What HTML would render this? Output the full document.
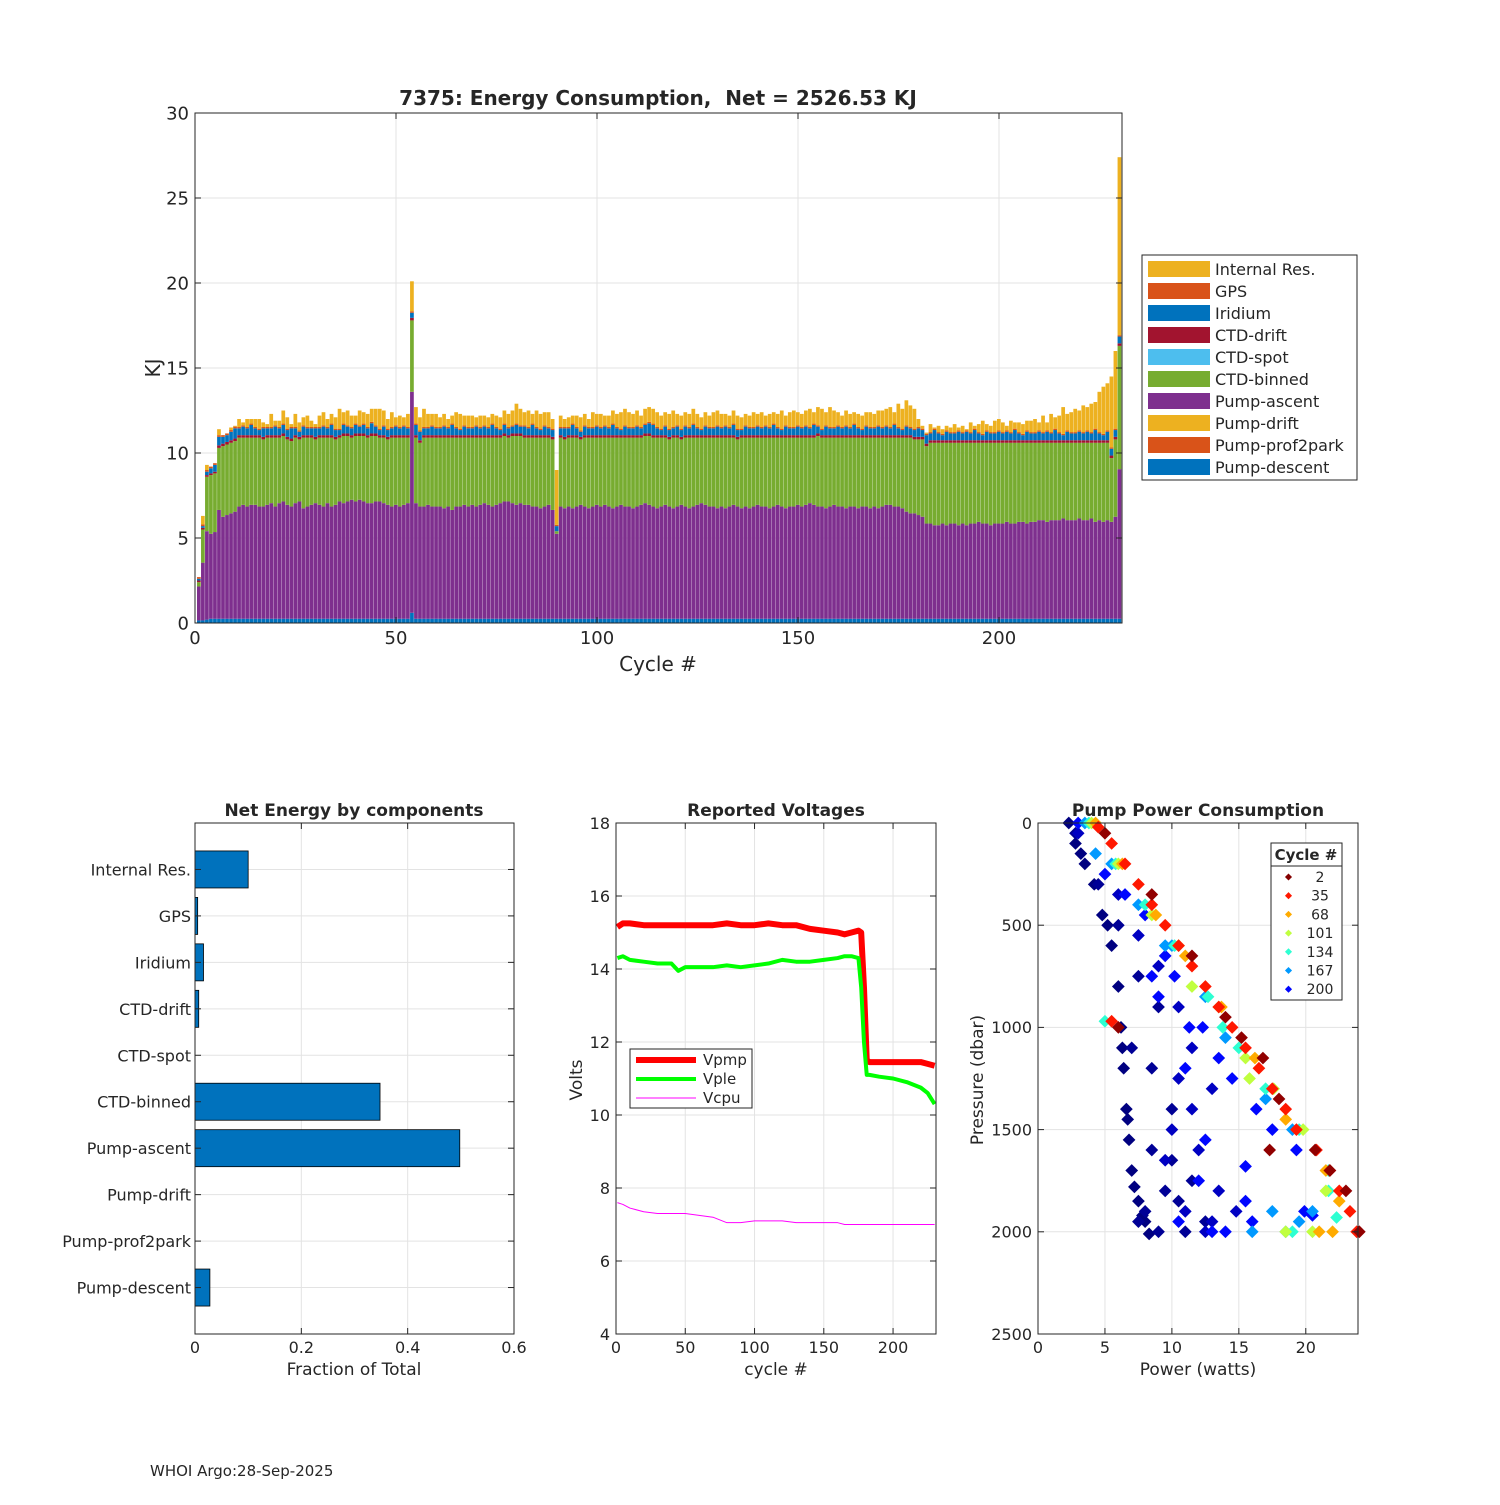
<!DOCTYPE html>
<html><head><meta charset="utf-8"><style>
html,body{margin:0;padding:0;background:#fff;}
svg text{font-family:"DejaVu Sans","Liberation Sans",sans-serif;fill:#262626;white-space:pre;}
</style></head><body>
<svg id="fig" width="1500" height="1500" viewBox="0 0 1500 1500" xmlns="http://www.w3.org/2000/svg"></svg>
<script>
// ===== Top chart data (cycles 1..230) =====
const cycles=[];for(let i=1;i<=230;i++)cycles.push(i);
const total=[2.6,6.3,9.3,9.0,9.1,11.4,11.0,11.1,11.5,11.6,
12.0,11.8,12.0,12.0,12.0,12.0,11.8,11.7,12.3,11.9,
11.9,12.5,12.1,11.7,12.3,11.8,12.1,12.2,11.9,11.7,
12.2,12.4,12.0,12.3,12.1,12.6,12.4,12.5,12.2,12.2,
12.5,12.4,12.3,12.6,12.6,12.6,12.5,12.0,12.4,12.1,
12.2,12.1,12.3,20.1,12.7,12.1,12.6,12.3,12.3,12.3,
12.1,12.3,12.0,12.2,12.4,12.3,12.2,12.2,12.2,12.1,
12.2,12.2,12.1,12.3,12.2,12.1,12.5,12.3,12.5,12.9,
12.6,12.4,12.5,12.3,12.5,12.3,12.4,12.4,12.0,9.0,
12.2,12.0,12.1,12.2,12.2,12.1,12.3,12.0,12.4,12.3,
12.3,12.2,12.2,12.5,12.3,12.4,12.6,12.4,12.3,12.5,
12.2,12.6,12.7,12.6,12.4,12.2,12.4,12.3,12.5,12.3,
12.2,12.4,12.3,12.6,12.3,12.1,12.4,12.2,12.4,12.5,
12.3,12.3,12.2,12.5,12.2,12.1,12.3,12.2,12.4,12.3,
12.4,12.2,12.3,12.4,12.3,12.5,12.2,12.4,12.5,12.4,
12.3,12.5,12.6,12.4,12.7,12.6,12.4,12.7,12.5,12.4,
12.2,12.5,12.3,12.4,12.3,12.2,12.4,12.4,12.3,12.5,
12.5,12.6,12.7,12.4,12.9,12.6,13.1,12.8,12.6,12.0,
11.6,11.2,11.7,11.5,11.6,11.4,11.6,11.5,11.7,11.5,
11.6,11.4,11.8,11.6,11.7,11.9,11.7,11.6,11.9,12.0,
11.8,11.6,11.9,11.8,11.8,11.7,11.9,11.9,12.0,11.8,
12.2,11.8,12.3,12.1,12.2,12.7,12.3,12.4,12.6,12.5,
12.8,12.7,12.9,13.0,13.6,13.9,14.1,14.5,16.0,27.4];
const descent=[0.15,0.15,0.2,0.25,0.25,0.25,0.25,0.25,0.25,0.25,
0.25,0.25,0.25,0.25,0.25,0.25,0.25,0.25,0.25,0.25,0.25,0.25,0.25,0.25,0.25,0.25,0.25,0.25,0.25,0.25,
0.25,0.25,0.25,0.25,0.25,0.25,0.25,0.25,0.25,0.25,0.25,0.25,0.25,0.25,0.25,0.25,0.25,0.25,0.25,0.25,
0.25,0.25,0.25,0.6,0.25,0.25,0.25,0.25,0.25,0.25,0.25,0.25,0.25,0.25,0.25,0.25,0.25,0.25,0.25,0.25,
0.25,0.25,0.25,0.25,0.25,0.25,0.25,0.25,0.25,0.25,0.25,0.25,0.25,0.25,0.25,0.25,0.25,0.25,0.25,0.25,
0.25,0.25,0.25,0.25,0.25,0.25,0.25,0.25,0.25,0.25,0.25,0.25,0.25,0.25,0.25,0.25,0.25,0.25,0.25,0.25,
0.25,0.25,0.25,0.25,0.25,0.25,0.25,0.25,0.25,0.25,0.25,0.25,0.25,0.25,0.25,0.25,0.25,0.25,0.25,0.25,
0.25,0.25,0.25,0.25,0.25,0.25,0.25,0.25,0.25,0.25,0.25,0.25,0.25,0.25,0.25,0.25,0.25,0.25,0.25,0.25,
0.25,0.25,0.25,0.25,0.25,0.25,0.25,0.25,0.25,0.25,0.25,0.25,0.25,0.25,0.25,0.25,0.25,0.25,0.25,0.25,
0.25,0.25,0.25,0.25,0.25,0.25,0.25,0.25,0.25,0.25,0.25,0.25,0.25,0.25,0.25,0.25,0.25,0.25,0.25,0.25,
0.25,0.25,0.25,0.25,0.25,0.25,0.25,0.25,0.25,0.25,0.25,0.25,0.25,0.25,0.25,0.25,0.25,0.25,0.25,0.25,
0.25,0.25,0.25,0.25,0.25,0.25,0.25,0.25,0.25,0.25,0.25,0.25,0.25,0.25,0.25,0.25,0.25,0.25,0.25,0.25];
const ascent=[2.0,3.4,5.2,5.0,5.1,6.4,6.0,6.1,6.2,6.3,
6.6,6.7,6.6,6.7,6.7,6.6,6.6,6.7,6.8,6.6,
6.8,6.9,6.7,6.6,6.8,6.9,6.5,6.6,6.7,6.8,
6.7,6.6,6.8,6.6,6.7,6.9,6.8,6.9,7.0,6.9,
7.0,6.9,6.8,6.8,6.9,6.9,6.8,6.7,6.6,6.7,
6.6,6.7,6.8,13.0,6.8,6.6,6.6,6.7,6.6,6.6,
6.6,6.5,6.6,6.4,6.6,6.6,6.7,6.6,6.7,6.6,
6.7,6.8,6.7,6.6,6.7,6.8,6.9,6.9,6.8,6.7,
6.8,6.7,6.7,6.6,6.6,6.5,6.6,6.7,6.4,5.0,
6.6,6.5,6.6,6.5,6.6,6.7,6.6,6.5,6.6,6.7,
6.6,6.7,6.6,6.5,6.6,6.7,6.6,6.6,6.5,6.6,
6.7,6.8,6.7,6.6,6.5,6.6,6.7,6.6,6.5,6.6,
6.7,6.6,6.5,6.6,6.7,6.8,6.7,6.6,6.6,6.5,
6.6,6.5,6.6,6.7,6.6,6.5,6.6,6.5,6.6,6.7,
6.6,6.6,6.5,6.6,6.7,6.6,6.5,6.6,6.6,6.7,
6.6,6.7,6.8,6.7,6.6,6.6,6.5,6.6,6.7,6.6,
6.6,6.5,6.6,6.6,6.5,6.6,6.6,6.5,6.6,6.5,
6.6,6.7,6.7,6.6,6.6,6.5,6.3,6.2,6.2,6.1,
6.0,5.6,5.6,5.5,5.5,5.6,5.5,5.6,5.6,5.5,
5.6,5.5,5.6,5.6,5.7,5.6,5.6,5.5,5.6,5.6,
5.6,5.7,5.6,5.6,5.7,5.7,5.6,5.7,5.7,5.8,
5.8,5.7,5.8,5.8,5.8,5.9,5.8,5.8,5.8,5.9,
5.8,5.8,5.9,5.7,5.8,5.7,5.8,5.7,6.0,8.8];
const greenTop=[2.4,5.5,8.6,8.7,8.8,10.3,10.4,10.5,10.6,10.7,
10.9,10.9,10.9,10.9,10.9,10.9,10.8,10.9,10.9,10.9,
10.9,11.0,10.8,10.7,10.9,10.8,10.9,10.9,10.9,10.8,
10.9,10.9,10.9,10.9,10.8,10.9,11.0,11.0,10.9,11.0,
11.0,11.0,10.9,11.0,11.0,10.9,10.9,10.8,10.9,10.9,
10.9,10.9,10.9,17.8,10.9,10.6,10.9,10.9,10.9,10.9,
10.9,10.9,10.9,10.9,10.9,10.9,10.9,10.9,10.9,10.9,
10.9,10.9,10.9,10.9,10.9,10.9,11.0,10.9,11.0,11.0,
11.0,10.9,10.9,10.9,10.9,10.9,10.9,10.9,10.8,5.4,
10.9,10.8,10.9,10.9,10.9,10.8,10.9,10.9,10.9,10.9,
10.9,10.9,10.9,10.9,10.9,10.9,10.9,10.9,10.9,10.9,
10.9,11.0,11.0,10.9,10.9,10.9,10.9,10.8,10.9,10.9,
10.8,10.9,10.9,10.9,10.9,10.9,10.9,10.9,10.9,10.9,
10.9,10.9,10.9,10.9,10.8,10.9,10.9,10.9,10.9,10.9,
10.9,10.9,10.9,10.9,10.9,10.9,10.9,10.9,10.9,10.9,
10.9,10.9,10.9,10.9,11.0,10.9,10.9,10.9,10.9,10.9,
10.9,10.9,10.9,10.9,10.9,10.9,10.9,10.9,10.9,10.9,
10.9,10.9,10.9,10.9,10.9,10.9,10.9,10.9,10.8,10.8,
10.8,10.4,10.6,10.6,10.6,10.6,10.6,10.6,10.6,10.6,
10.6,10.6,10.6,10.6,10.6,10.6,10.6,10.6,10.6,10.6,
10.6,10.6,10.6,10.6,10.6,10.6,10.6,10.6,10.6,10.6,
10.6,10.6,10.6,10.6,10.6,10.6,10.6,10.6,10.6,10.6,
10.6,10.6,10.6,10.6,10.6,10.6,10.6,9.7,10.8,16.3];
const ctdDrift=[0.1,0.1,0.1,0.1,0.1,0.15,0.15,0.15,0.15,0.15,
0.15,0.15,0.15,0.15,0.15,0.15,0.15,0.15,0.15,0.15,0.15,0.15,0.15,0.15,0.15,0.15,0.15,0.15,0.15,0.15,
0.15,0.15,0.15,0.15,0.15,0.15,0.15,0.15,0.15,0.15,0.15,0.15,0.15,0.15,0.15,0.15,0.15,0.15,0.15,0.15,
0.15,0.15,0.15,0.15,0.15,0.15,0.15,0.15,0.15,0.15,0.15,0.15,0.15,0.15,0.15,0.15,0.15,0.15,0.15,0.15,
0.15,0.15,0.15,0.15,0.15,0.15,0.15,0.15,0.15,0.15,0.15,0.15,0.15,0.15,0.15,0.15,0.15,0.15,0.15,0.0,
0.15,0.15,0.15,0.15,0.15,0.15,0.15,0.15,0.15,0.15,0.15,0.15,0.15,0.15,0.15,0.15,0.15,0.15,0.15,0.15,
0.15,0.15,0.15,0.15,0.15,0.15,0.15,0.15,0.15,0.15,0.15,0.15,0.15,0.15,0.15,0.15,0.15,0.15,0.15,0.15,
0.15,0.15,0.15,0.15,0.15,0.15,0.15,0.15,0.15,0.15,0.15,0.15,0.15,0.15,0.15,0.15,0.15,0.15,0.15,0.15,
0.15,0.15,0.15,0.15,0.15,0.15,0.15,0.15,0.15,0.15,0.15,0.15,0.15,0.15,0.15,0.15,0.15,0.15,0.15,0.15,
0.15,0.15,0.15,0.15,0.15,0.15,0.15,0.15,0.15,0.15,0.15,0.15,0.15,0.15,0.15,0.15,0.15,0.15,0.15,0.15,
0.15,0.15,0.15,0.15,0.15,0.15,0.15,0.15,0.15,0.15,0.15,0.15,0.15,0.15,0.15,0.15,0.15,0.15,0.15,0.15,
0.15,0.15,0.15,0.15,0.15,0.15,0.15,0.15,0.15,0.15,0.15,0.15,0.15,0.15,0.15,0.15,0.15,0.15,0.15,0.15];
const iridium=[0.1,0.1,0.2,0.3,0.4,0.5,0.4,0.4,0.5,0.6,
0.4,0.5,0.4,0.6,0.4,0.3,0.5,0.4,0.4,0.5,0.4,0.5,0.4,0.6,0.4,0.3,0.5,0.4,0.4,0.5,
0.4,0.5,0.4,0.6,0.4,0.3,0.5,0.4,0.4,0.5,0.4,0.5,0.4,0.6,0.4,0.3,0.5,0.4,0.4,0.5,
0.4,0.5,0.4,0.3,0.6,0.5,0.4,0.4,0.5,0.4,0.4,0.5,0.4,0.6,0.4,0.3,0.5,0.4,0.4,0.5,
0.4,0.5,0.4,0.6,0.4,0.3,0.5,0.4,0.4,0.5,0.4,0.5,0.4,0.6,0.4,0.3,0.5,0.4,0.4,0.3,
0.4,0.5,0.4,0.6,0.4,0.3,0.5,0.4,0.4,0.5,0.4,0.5,0.4,0.6,0.4,0.3,0.5,0.4,0.4,0.5,
0.4,0.5,0.6,0.6,0.4,0.3,0.5,0.4,0.4,0.5,0.4,0.5,0.4,0.6,0.4,0.3,0.5,0.4,0.4,0.5,
0.4,0.5,0.4,0.6,0.4,0.3,0.5,0.4,0.4,0.5,0.4,0.5,0.4,0.6,0.4,0.3,0.5,0.4,0.4,0.5,
0.4,0.5,0.4,0.6,0.4,0.3,0.5,0.4,0.4,0.5,0.4,0.5,0.4,0.6,0.4,0.3,0.5,0.4,0.4,0.5,
0.4,0.5,0.4,0.6,0.4,0.3,0.5,0.4,0.4,0.5,0.4,0.5,0.4,0.6,0.4,0.3,0.5,0.4,0.4,0.5,
0.4,0.5,0.4,0.6,0.4,0.3,0.5,0.4,0.4,0.5,0.4,0.5,0.4,0.6,0.4,0.3,0.5,0.4,0.4,0.5,
0.4,0.5,0.4,0.6,0.4,0.3,0.5,0.4,0.4,0.5,0.4,0.5,0.4,0.6,0.4,0.3,0.5,0.4,0.4,0.4];
const gps=[0.1,0.1,0.1,0.1,0.1,0.1,0.1,0.1,0.1,0.1,
0.08,0.08,0.08,0.08,0.08,0.08,0.08,0.08,0.08,0.08,0.08,0.08,0.08,0.08,0.08,0.08,0.08,0.08,0.08,0.08,
0.08,0.08,0.08,0.08,0.08,0.08,0.08,0.08,0.08,0.08,0.08,0.08,0.08,0.08,0.08,0.08,0.08,0.08,0.08,0.08,
0.08,0.08,0.08,0.08,0.08,0.08,0.08,0.08,0.08,0.08,0.08,0.08,0.08,0.08,0.08,0.08,0.08,0.08,0.08,0.08,
0.08,0.08,0.08,0.08,0.08,0.08,0.08,0.08,0.08,0.08,0.08,0.08,0.08,0.08,0.08,0.08,0.08,0.08,0.08,0.08,
0.08,0.08,0.08,0.08,0.08,0.08,0.08,0.08,0.08,0.08,0.08,0.08,0.08,0.08,0.08,0.08,0.08,0.08,0.08,0.08,
0.08,0.08,0.08,0.08,0.08,0.08,0.08,0.08,0.08,0.08,0.08,0.08,0.08,0.08,0.08,0.08,0.08,0.08,0.08,0.08,
0.08,0.08,0.08,0.08,0.08,0.08,0.08,0.08,0.08,0.08,0.08,0.08,0.08,0.08,0.08,0.08,0.08,0.08,0.08,0.08,
0.08,0.08,0.08,0.08,0.08,0.08,0.08,0.08,0.08,0.08,0.08,0.08,0.08,0.08,0.08,0.08,0.08,0.08,0.08,0.08,
0.08,0.08,0.08,0.08,0.08,0.08,0.08,0.08,0.08,0.08,0.08,0.08,0.08,0.08,0.08,0.08,0.08,0.08,0.08,0.08,
0.08,0.08,0.08,0.08,0.08,0.08,0.08,0.08,0.08,0.08,0.08,0.08,0.08,0.08,0.08,0.08,0.08,0.08,0.08,0.08,
0.08,0.08,0.08,0.08,0.08,0.08,0.08,0.08,0.08,0.08,0.08,0.08,0.08,0.08,0.08,0.08,0.08,0.08,0.08,0.08];
const yTicksTop=[0,5,10,15,20,25,30];
const xTicksTop=[0,50,100,150,200];
const legendNames=["Internal Res.","GPS","Iridium","CTD-drift","CTD-spot","CTD-binned","Pump-ascent","Pump-drift","Pump-prof2park","Pump-descent"];
const legendColors=["#EDB120","#D95319","#0072BD","#A2142F","#4DBEEE","#77AC30","#7E2F8E","#EDB120","#D95319","#0072BD"];

// ===== Net energy fractions =====
const compNames=["Internal Res.","GPS","Iridium","CTD-drift","CTD-spot","CTD-binned","Pump-ascent","Pump-drift","Pump-prof2park","Pump-descent"];
const compFrac=[0.100,0.005,0.016,0.007,0,0.348,0.498,0,0,0.028];
const fracTicks=[0,0.2,0.4,0.6];

// ===== Voltages =====
const vCycle=[1,5,10,20,30,40,45,50,60,70,80,90,100,110,120,130,140,150,160,165,170,175,177,179,181,183,190,200,210,220,225,230];
const vPmp=[15.15,15.25,15.25,15.2,15.2,15.2,15.2,15.2,15.2,15.2,15.25,15.2,15.2,15.25,15.2,15.2,15.1,15.05,15.0,14.95,15.0,15.05,15.0,13.5,11.5,11.45,11.45,11.45,11.45,11.45,11.4,11.35];
const vPle=[14.3,14.35,14.25,14.2,14.15,14.15,13.95,14.05,14.05,14.05,14.1,14.05,14.1,14.15,14.25,14.2,14.2,14.25,14.3,14.35,14.35,14.3,13.5,12.0,11.1,11.1,11.05,11.0,10.9,10.75,10.6,10.3];
const vCpu=[7.6,7.55,7.45,7.35,7.3,7.3,7.3,7.3,7.25,7.2,7.05,7.05,7.1,7.1,7.1,7.05,7.05,7.05,7.05,7.0,7.0,7.0,7.0,7.0,7.0,7.0,7.0,7.0,7.0,7.0,7.0,7.0];
const voltTicksY=[4,6,8,10,12,14,16,18];
const voltTicksX=[0,50,100,150,200];

// ===== Pump power scatter =====
const pumpCycle=[
5,5,5,5,5,5,5,5,5,5,5,5,5,
35,35,35,35,35,35,35,35,35,35,35,35,35,35,35,35,35,35,35,35,35,35,
68,68,68,68,68,68,68,68,68,68,68,
101,101,101,101,101,101,101,101,101,101,101,101,101,
134,134,134,134,134,134,134,134,134,134,134,134,134,134,
167,167,167,167,167,167,167,167,167,167,167,167,167,167,167,
200,200,200,200,200,200,200,200,200,200,200,200,200,200,200,200,200,200,200,200,200,200,200,200,200,200,
215,215,215,215,215,215,215,215,215,215,215,215,215,215,215,215,215,
225,225,225,225,225,225,225,225,225,225,225,225,225,225,225,225,225,225,
230,230,230,230,230,230,230,230,230,230,230,230,230,230,230,230,230,230,230,230,230];
const pumpPower=[
5.0,8.5,11.5,14.0,15.2,16.8,18.0,20.7,21.8,23.0,24.0,6.0,17.3,
4.5,5.5,6.5,7.5,8.5,9.5,10.5,11.5,12.5,13.5,14.5,15.5,16.5,17.5,18.5,19.3,20.8,21.8,22.5,23.3,23.8,5.5,
4.3,6.3,8.8,11.0,13.7,16.2,18.5,21.5,22.5,22.0,21.0,
4.0,6.0,8.5,10.5,13.5,15.5,17.6,19.8,21.5,20.5,11.5,15.8,18.5,
3.8,5.8,8.0,10.2,12.7,15.0,17.0,19.5,22.3,19.0,13.8,5.0,21.7,21.7,
3.5,5.5,7.5,10.0,12.5,14.0,17.0,19.0,20.5,16.0,18.5,9.5,4.3,19.5,17.5,
3.0,5.0,6.5,8.0,9.5,10.2,11.3,12.3,13.5,14.5,16.3,17.5,19.3,19.9,15.5,14.0,12.0,10.5,16.0,12.5,11.0,8.5,9.0,13.0,15.5,20.5,
3.0,6.0,7.5,9.0,10.5,11.5,13.0,12.0,11.0,13.0,9.5,10.0,12.5,13.5,14.8,11.5,10.5,
2.8,4.5,6.0,7.5,9.0,8.5,10.0,7.0,8.5,9.5,10.5,9.0,11.0,12.5,8.0,7.5,10.0,11.5,
2.3,2.8,3.5,4.2,4.8,5.5,6.0,6.2,6.4,6.6,6.8,7.0,7.5,8.0,8.3,3.2,5.2,6.3,6.7,7.2,7.8];
const pumpPressure=[
50,350,650,950,1050,1150,1350,1600,1700,1800,2000,1000,1600,
20,100,200,300,400,500,600,700,800,900,1000,1100,1200,1300,1400,1500,1600,1700,1800,1900,2000,970,
0,200,450,650,900,1150,1450,1700,1850,2000,2000,
0,200,450,600,900,1150,1300,1500,1800,2000,800,1250,2000,
0,200,400,600,850,1100,1300,1500,1930,2000,1000,970,1700,1800,
0,200,400,600,850,1050,1350,1500,1900,2000,2000,600,150,1950,1900,
0,250,350,450,650,750,1000,1000,1150,1250,1400,1500,1600,1900,1850,2000,1750,1950,1950,1550,1200,750,850,2000,1680,1920,
50,350,550,700,900,1100,1300,1600,1900,1950,1650,1500,2000,1800,1900,1400,1250,
50,300,500,750,900,1200,1400,1100,1600,1800,1850,2000,2000,1950,1900,1950,1650,1750,
0,100,200,300,450,600,800,1000,1200,1400,1550,1700,1850,1950,2010,150,500,1100,1450,1780,1920];
const pumpLegendCycles=[2,35,68,101,134,167,200];
const powerTicks=[0,5,10,15,20];
const pressTicks=[0,500,1000,1500,2000,2500];
</script>
<script>
const NS="http://www.w3.org/2000/svg";
const svg=document.getElementById('fig');
function mk(tag,attrs,parent){const e=document.createElementNS(NS,tag);for(const k in attrs)e.setAttribute(k,attrs[k]);(parent||svg).appendChild(e);return e;}
function txt(s,x,y,size,anchor,extra,parent){const t=mk('text',Object.assign({x:x,y:y,'font-size':size,'text-anchor':anchor||'middle'},extra||{}),parent);t.textContent=s;return t;}
function jet(v){
  const f=(x)=>Math.max(0,Math.min(1,x));
  const r=f(1.5-Math.abs(4*v-3)),g=f(1.5-Math.abs(4*v-2)),b=f(1.5-Math.abs(4*v-1));
  return `rgb(${Math.round(r*255)},${Math.round(g*255)},${Math.round(b*255)})`;}
function cycColor(c){return jet(1-(c-1)/229);}
function gridBox(L,T,R,B,xs,ys,sx,sy,name){
  const g=mk('g',{});
  
  xs.forEach(v=>{const x=sx(v);mk('line',{x1:x,x2:x,y1:T,y2:B,stroke:'#e3e3e3','stroke-width':1},g);});
  ys.forEach(v=>{const y=sy(v);mk('line',{x1:L,x2:R,y1:y,y2:y,stroke:'#e3e3e3','stroke-width':1},g);});
}
function axesFrame(L,T,R,B,xs,ys,sx,sy,name,xfmt,yfmt,fs){
  const g=mk('g',{});
  
  mk('rect',{x:L,y:T,width:R-L,height:B-T,fill:'none',stroke:'#262626','stroke-width':1},g);
  xs.forEach(v=>{const x=sx(v);mk('line',{x1:x,x2:x,y1:B,y2:B-6,stroke:'#262626'},g);mk('line',{x1:x,x2:x,y1:T,y2:T+6,stroke:'#262626'},g);
    if(xfmt)txt(xfmt(v),x,B+fs+3,fs,'middle',{},g);});
  ys.forEach(v=>{const y=sy(v);mk('line',{x1:L,x2:L+6,y1:y,y2:y,stroke:'#262626'},g);mk('line',{x1:R,x2:R-6,y1:y,y2:y,stroke:'#262626'},g);
    if(yfmt)txt(yfmt(v),L-6,y+fs*0.36,fs,'end',{},g);});
}

// ===== TOP CHART =====
(function(){
const L=195,T=113,R=1122,B=623,XMAX=230.6,YMAX=30;
const sx=v=>L+v/XMAX*(R-L), sy=v=>B-v/YMAX*(B-T);
gridBox(L,T,R,B,xTicksTop,yTicksTop,sx,sy,'energy');
const gb=mk('g',{});
cycles.forEach((c,i)=>{
  const segs=[];
  const d=descent[i],a=ascent[i];
  const b=Math.max(0,greenTop[i]-d-a);
  segs.push([d,'#0072BD','pump-descent']);
  segs.push([a,'#7E2F8E','pump-ascent']);
  segs.push([b,'#77AC30','ctd-binned']);
  segs.push([ctdDrift[i],'#A2142F','ctd-drift']);
  segs.push([iridium[i],'#0072BD','iridium']);
  segs.push([gps[i],'#D95319','gps']);
  const sum=d+a+b+ctdDrift[i]+iridium[i]+gps[i];
  segs.push([Math.max(0,total[i]-sum),'#EDB120','internal-res']);
  let acc=0;const x0=sx(c-0.5),x1=sx(c+0.5);
  segs.forEach(s=>{if(s[0]<=0)return;const y1=sy(acc),y2=sy(acc+s[0]);
    const r=mk('rect',{x:x0,y:y2,width:Math.max(0.5,x1-x0-0.3),height:y1-y2,fill:s[1]},gb);
    
    
    acc+=s[0];});
});
axesFrame(L,T,R,B,xTicksTop,yTicksTop,sx,sy,'energy',v=>String(v),v=>String(v),18);
const t=txt('7375: Energy Consumption,  Net = 2526.53 KJ',658,105,20,'middle',{'font-weight':'bold'});

const xl=txt('Cycle #',658,671,20);
const yl=txt('KJ',160,368,20,'middle',{transform:'rotate(-90 160 368)'});
const lg=mk('g',{});
mk('rect',{x:1142,y:255,width:215,height:225,fill:'#fff',stroke:'#262626'},lg);
legendNames.forEach((n,i)=>{const y=269+i*22;
  const e=mk('g',{},lg);
  mk('rect',{x:1148,y:y-8,width:62,height:16,fill:legendColors[i]},e);
  txt(n,1215,y+6,16,'start',{},e);});
})();

// ===== NET ENERGY BY COMPONENTS =====
(function(){
const L=195,T=823,R=514,B=1334,XMAX=0.6;
const sx=v=>L+v/XMAX*(R-L), sy=v=>T+v*(B-T)/11;
gridBox(L,T,R,B,fracTicks,[1,2,3,4,5,6,7,8,9,10],sx,sy,'components');
const g=mk('g',{});
compNames.forEach((n,i)=>{const yc=sy(i+1);
  if(compFrac[i]>0){const r=mk('rect',{x:sx(0),y:yc-18.5,width:sx(compFrac[i])-sx(0),height:37,fill:'#0072BD',stroke:'#000','stroke-width':0.8},g);
  }
});
axesFrame(L,T,R,B,fracTicks,[1,2,3,4,5,6,7,8,9,10],sx,sy,'components',v=>String(v),null,16);
compNames.forEach((n,i)=>{const l=txt(n,191,sy(i+1)+6,16,'end');});
const t=txt('Net Energy by components',354,816,17,'middle',{'font-weight':'bold'});
const xl=txt('Fraction of Total',354,1375,17);
})();

// ===== VOLTAGES =====
(function(){
const L=616,T=823,R=936,B=1334,XMAX=231,YMIN=4,YMAX=18;
const sx=v=>L+v/XMAX*(R-L), sy=v=>B-(v-YMIN)/(YMAX-YMIN)*(B-T);
gridBox(L,T,R,B,voltTicksX,voltTicksY,sx,sy,'voltage');
function line(arr,col,w,name){const p=mk('polyline',{points:vCycle.map((c,i)=>sx(c)+','+sy(arr[i])).join(' '),fill:'none',stroke:col,'stroke-width':w,'stroke-linejoin':'round'});
  }
line(vPmp,'#ff0000',6,'vpmp-line');line(vPle,'#00ff00',4,'vple-line');line(vCpu,'#ff00ff',1,'vcpu-line');
axesFrame(L,T,R,B,voltTicksX,voltTicksY,sx,sy,'voltage',v=>String(v),v=>String(v),16);
const t=txt('Reported Voltages',776,816,17,'middle',{'font-weight':'bold'});
const xl=txt('cycle #',776,1375,17);
const yl=txt('Volts',582,1080,17,'middle',{transform:'rotate(-90 582 1080)'});
const lg=mk('g',{});
mk('rect',{x:630,y:1049,width:122,height:59,fill:'#fff',stroke:'#262626'},lg);
[['Vpmp','#ff0000',6,1060],['Vple','#00ff00',4,1079],['Vcpu','#ff00ff',1,1098]].forEach(e=>{
  const g=mk('g',{},lg);
  mk('line',{x1:636,x2:696,y1:e[3],y2:e[3],stroke:e[1],'stroke-width':e[2]},g);txt(e[0],703,e[3]+5,15,'start',{},g);});
})();

// ===== PUMP POWER =====
(function(){
const L=1038,T=823,R=1358,B=1334,XMAX=23.9,YMAX=2500;
const sx=v=>L+v/XMAX*(R-L), sy=v=>T+v/YMAX*(B-T);
gridBox(L,T,R,B,powerTicks,pressTicks,sx,sy,'pump');
const g=mk('g',{});
const order=pumpCycle.map((c,i)=>i).sort((a,b)=>pumpCycle[b]-pumpCycle[a]);
order.forEach(i=>{const x=sx(pumpPower[i]),y=sy(pumpPressure[i]);
  const p=mk('rect',{x:x-4.5,y:y-4.5,width:9,height:9,fill:cycColor(pumpCycle[i]),transform:`rotate(45 ${x} ${y})`},g);
  });
axesFrame(L,T,R,B,powerTicks,pressTicks,sx,sy,'pump',v=>String(v),v=>String(v),16);
const t=txt('Pump Power Consumption',1198,816,17,'middle',{'font-weight':'bold'});
const xl=txt('Power (watts)',1198,1375,17);
const yl=txt('Pressure (dbar)',983,1080,17,'middle',{transform:'rotate(-90 983 1080)'});
const lg=mk('g',{});
mk('rect',{x:1271,y:843,width:71,height:157,fill:'#fff',stroke:'#262626'},lg);
mk('line',{x1:1271,x2:1342,y1:866,y2:866,stroke:'#262626'},lg);
txt('Cycle #',1306,860,15,'middle',{'font-weight':'bold'},lg);
pumpLegendCycles.forEach((c,i)=>{const y=877+i*18.7;
  const e=mk('g',{},lg);
  mk('rect',{x:1286,y:y-2.5,width:5,height:5,fill:cycColor(c),transform:`rotate(45 1288.5 ${y})`},e);
  txt(String(c),1320,y+5,14,'middle',{},e);});
})();

const f=txt('WHOI Argo:28-Sep-2025',150,1476,15,'start');
</script>
</body></html>
